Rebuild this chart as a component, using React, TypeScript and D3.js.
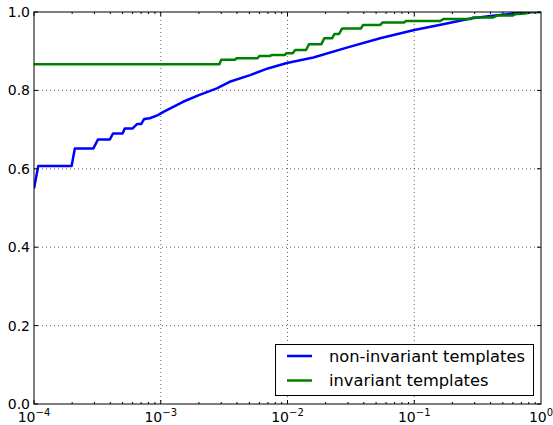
import React from 'react'
import { useEffect, useRef } from 'react'
import * as d3 from 'd3'

// non-invariant templates (blue)
const blueX = [1e-4, 1.08e-4, 1.98e-4, 2.1e-4, 2.94e-4, 3.2e-4, 3.97e-4, 4.2e-4, 5e-4, 5.2e-4, 6e-4, 6.5e-4, 7e-4, 7.4e-4, 8.2e-4, 9.5e-4, 1.05e-3, 1.5e-3, 2e-3, 2.77e-3, 3.5e-3, 5.07e-3, 7e-3, 9.9e-3, 0.016, 0.0294, 0.0538, 0.1, 0.165, 0.285, 0.435, 0.686, 0.85, 1.0]
const blueY = [0.55, 0.607, 0.607, 0.652, 0.652, 0.675, 0.675, 0.69, 0.69, 0.703, 0.703, 0.714, 0.714, 0.727, 0.729, 0.737, 0.745, 0.771, 0.788, 0.805, 0.822, 0.839, 0.856, 0.87, 0.884, 0.909, 0.933, 0.954, 0.968, 0.984, 0.991, 0.998, 1.0, 1.0]

// invariant templates (green)
const greenX = [1e-4, 2.9e-3, 3.0e-3, 3.85e-3, 3.95e-3, 5.8e-3, 6e-3, 7.3e-3, 7.5e-3, 9.5e-3, 9.8e-3, 1.1e-2, 1.15e-2, 1.4e-2, 1.48e-2, 1.85e-2, 1.95e-2, 2.25e-2, 2.35e-2, 2.55e-2, 2.7e-2, 3.8e-2, 3.95e-2, 5.4e-2, 5.6e-2, 8.3e-2, 8.6e-2, 0.16, 0.17, 0.28, 0.29, 0.42, 0.45, 0.6, 0.62, 0.75, 0.85, 1.0]
const greenY = [0.867, 0.867, 0.878, 0.878, 0.882, 0.882, 0.888, 0.888, 0.89, 0.89, 0.895, 0.895, 0.903, 0.903, 0.918, 0.918, 0.933, 0.933, 0.944, 0.944, 0.958, 0.958, 0.967, 0.967, 0.973, 0.973, 0.977, 0.977, 0.982, 0.982, 0.986, 0.986, 0.991, 0.991, 0.994, 0.996, 1.0, 1.0]

const seriesNames = ['non-invariant templates', 'invariant templates']
const seriesColors = ['#0000ff', '#008000']
const xTickExps = [-4, -3, -2, -1, 0]
const yTicks = [0, 0.2, 0.4, 0.6, 0.8, 1.0]

function App() {
    const svgRef = useRef<SVGSVGElement>(null)
    const width = 553
    const height = 425
    const left = 34, top = 12, right = 541, bottom = 404

    useEffect(() => {
        const svg = d3.select(svgRef.current)
        svg.selectAll('*').remove()
        const font = 'DejaVu Sans, sans-serif'

        const x = d3.scaleLog().domain([1e-4, 1]).range([left, right])
        const y = d3.scaleLinear().domain([0, 1]).range([bottom, top])

        svg.append('defs').append('clipPath').attr('id', 'plotclip')
            .append('rect').attr('x', left).attr('y', top)
            .attr('width', right - left).attr('height', bottom - top)

        // grid
        const grid = svg.append('g')
        xTickExps.slice(1, -1).forEach((e) => {
            grid.append('line')
                .attr('x1', x(Math.pow(10, e))).attr('x2', x(Math.pow(10, e)))
                .attr('y1', top).attr('y2', bottom)
        })
        yTicks.slice(1, -1).forEach((v) => {
            grid.append('line')
                .attr('x1', left).attr('x2', right)
                .attr('y1', y(v)).attr('y2', y(v))
        })
        grid.selectAll('line')
            .attr('stroke', '#000').attr('stroke-width', 0.6)
            .attr('stroke-dasharray', '1,3')

        // lines, drawn in matplotlib order (blue then green)
        const line = d3.line<[number, number]>()
            .x((d) => x(d[0]))
            .y((d) => y(d[1]))
        const seriesData: [number, number][][] = [
            blueX.map((v, i) => [v, blueY[i]] as [number, number]),
            greenX.map((v, i) => [v, greenY[i]] as [number, number]),
        ]
        seriesData.forEach((d, i) => {
            svg.append('path')
                .attr('d', line(d))
                .attr('fill', 'none')
                .attr('stroke', seriesColors[i])
                .attr('stroke-width', 2.5)
                .attr('stroke-linejoin', 'round')
                .attr('clip-path', 'url(#plotclip)')
        })

        // ticks (inside, all four sides)
        const ticks = svg.append('g').attr('stroke', '#000').attr('stroke-width', 1)
        for (let e = -4; e < 0; e++) {
            for (let m = 1; m < 10; m++) {
                const v = m * Math.pow(10, e)
                const len = m === 1 ? 4 : 2
                const px = x(v)
                ticks.append('line').attr('x1', px).attr('x2', px).attr('y1', bottom).attr('y2', bottom - len)
                ticks.append('line').attr('x1', px).attr('x2', px).attr('y1', top).attr('y2', top + len)
            }
        }
        yTicks.forEach((v) => {
            ticks.append('line').attr('x1', left).attr('x2', left + 4).attr('y1', y(v)).attr('y2', y(v))
            ticks.append('line').attr('x1', right).attr('x2', right - 4).attr('y1', y(v)).attr('y2', y(v))
        })

        // frame
        svg.append('rect')
            .attr('x', left).attr('y', top)
            .attr('width', right - left).attr('height', bottom - top)
            .attr('fill', 'none').attr('stroke', '#000').attr('stroke-width', 1)

        // y labels
        yTicks.forEach((v) => {
            svg.append('text')
                .attr('x', left - 4).attr('y', y(v))
                .attr('dy', '0.36em')
                .attr('text-anchor', 'end')
                .attr('font-family', font).attr('font-size', 14)
                .text(v.toFixed(1))
        })

        // x labels with superscript
        xTickExps.forEach((e) => {
            const t = svg.append('text')
                .attr('x', x(Math.pow(10, e))).attr('y', 422)
                .attr('text-anchor', 'middle')
                .attr('font-family', font).attr('font-size', 14)
            t.append('tspan').text('10')
            t.append('tspan').attr('font-size', 10).attr('dy', -6)
                .text(e < 0 ? '\u2212' + Math.abs(e) : String(e))
        })

        // legend
        const lg = svg.append('g')
        lg.append('rect')
            .attr('x', 275.5).attr('y', 344.5).attr('width', 258).attr('height', 51)
            .attr('fill', '#fff').attr('stroke', '#000').attr('stroke-width', 1)
        seriesNames.forEach((name, i) => {
            const ly = 356 + i * 24.5
            lg.append('line')
                .attr('x1', 287).attr('x2', 312).attr('y1', ly).attr('y2', ly)
                .attr('stroke', seriesColors[i]).attr('stroke-width', 2.5)
            lg.append('text')
                .attr('x', 329).attr('y', ly).attr('dy', '0.36em')
                .attr('font-family', font).attr('font-size', 16.3)
                .text(name)
        })
    }, [])

    return (
        <svg ref={svgRef} width={width} height={height}
            style={{ position: 'absolute', left: 0, top: 0, background: '#fff' }} />
    )
}

export default App
